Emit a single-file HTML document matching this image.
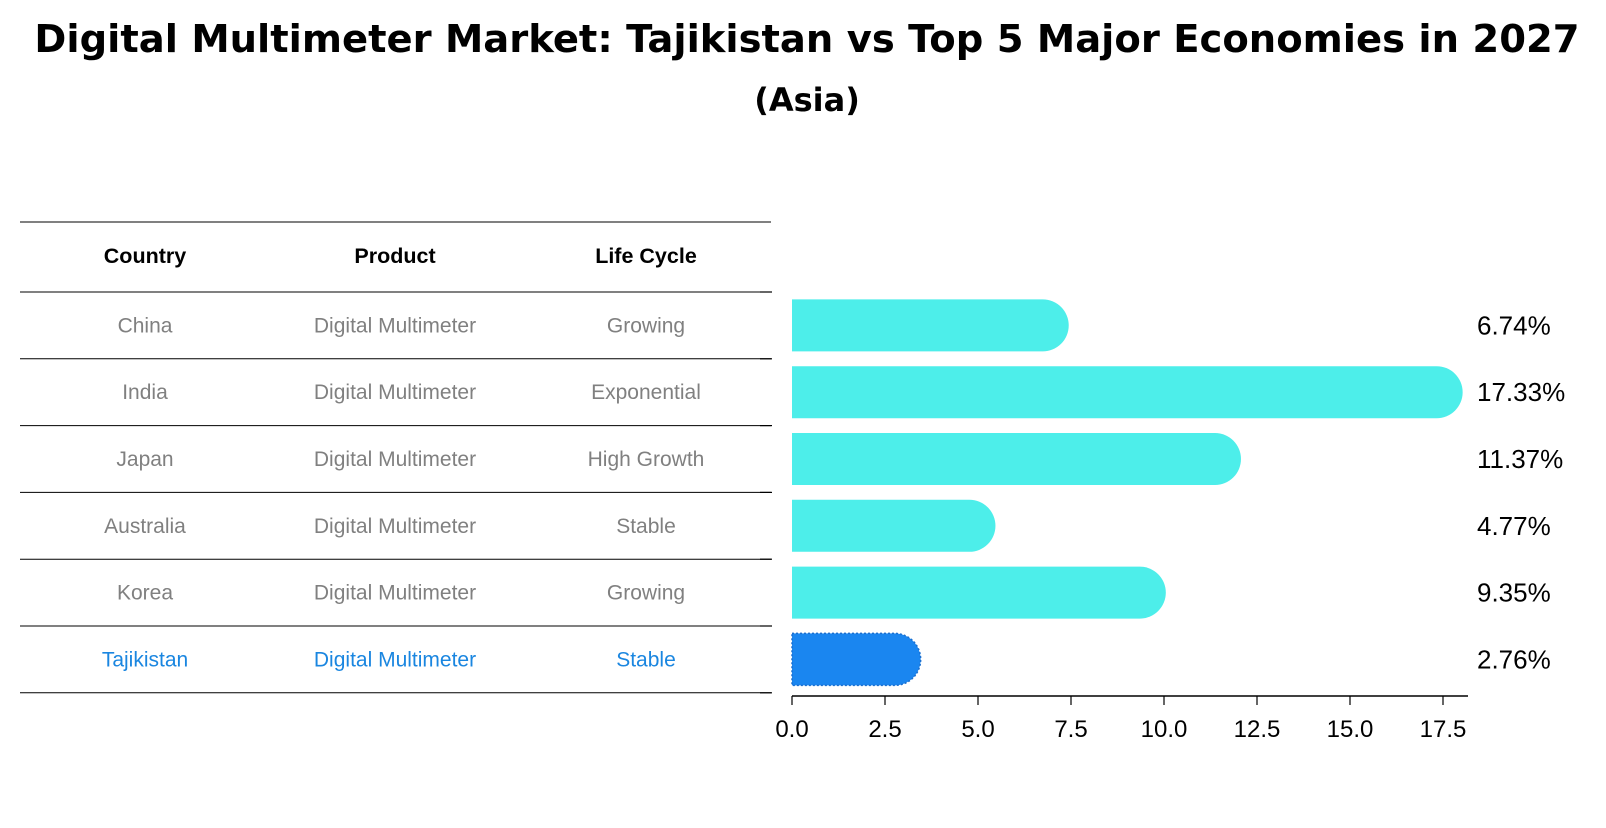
<!DOCTYPE html>
<html><head><meta charset="utf-8"><style>
body{margin:0;background:#fff;font-family:"Liberation Sans","DejaVu Sans",sans-serif;}
</style></head><body>
<svg id="chart" width="1606" height="823" xmlns="http://www.w3.org/2000/svg" font-family="DejaVu Sans, Liberation Sans, sans-serif">
<text x="807" y="52" text-anchor="middle" font-size="38.5" font-weight="bold">Digital Multimeter Market: Tajikistan vs Top 5 Major Economies in 2027</text>
<text x="807" y="111" text-anchor="middle" font-size="32" font-weight="bold">(Asia)</text>
<g id="table"></g>
<g id="bars"></g>
</svg>
<script>
const countries=["China","India","Japan","Australia","Korea","Tajikistan"];
const products=["Digital Multimeter","Digital Multimeter","Digital Multimeter","Digital Multimeter","Digital Multimeter","Digital Multimeter"];
const lifecycle=["Growing","Exponential","High Growth","Stable","Growing","Stable"];
const values=[6.74,17.33,11.37,4.77,9.35,2.76];
const ticks=[0,2.5,5,7.5,10,12.5,15,17.5];
const NS="http://www.w3.org/2000/svg";
function mk(t,a,p){const e=document.createElementNS(NS,t);for(const k in a)e.setAttribute(k,a[k]);p.appendChild(e);return e;}
const x0=792,ppu=37.2,rowTop=292,rowH=66.8,barH=52,r=26;
const xs=v=>x0+v*ppu;
const yc=i=>rowTop+rowH*(i+0.5);
const tb=document.getElementById('table'),bg=document.getElementById('bars');
const cols=[145,395,646];
const lineYs=[222,rowTop];
for(let i=1;i<=countries.length;i++)lineYs.push(rowTop+rowH*i);
lineYs.forEach((y,i)=>{const l=mk('line',{x1:20,x2:771,y1:y,y2:y,stroke:'#000','stroke-width':1},tb);

});
["Country","Product","Life Cycle"].forEach((h,j)=>{const t=mk('text',{x:cols[j],y:263,'text-anchor':'middle','font-size':21.5,'font-weight':'bold','font-family':'Liberation Sans, DejaVu Sans, sans-serif'},tb);t.textContent=h;

});
countries.forEach((c,i)=>{const col=i===countries.length-1?'#1a86e0':'#808080';
[c,products[i],lifecycle[i]].forEach((v,j)=>{const t=mk('text',{x:cols[j],y:yc(i)+7,'text-anchor':'middle','font-size':21,fill:col,'font-family':'Liberation Sans, DejaVu Sans, sans-serif'},tb);t.textContent=v;

});});
values.forEach((v,i)=>{const y=yc(i)-barH/2,xe=xs(v);const last=i===values.length-1;
const p=mk('path',{d:`M${x0},${y}H${xe}A${r},${r} 0 0 1 ${xe},${y+barH}H${x0}Z`,fill:last?'#1a86f0':'#4deeea',stroke:last?'#1a6fd0':'none','stroke-dasharray':last?'2,2':'none','stroke-width':1.5},bg);


const t=mk('text',{x:1477,y:yc(i)+9,'font-size':26,'font-family':'Liberation Sans, DejaVu Sans, sans-serif'},bg);t.textContent=v.toFixed(2)+'%';

});
for(let i=0;i<=values.length;i++){const y=rowTop+rowH*i;const l=mk('line',{x1:760,x2:772,y1:y,y2:y,stroke:'#000','stroke-width':1.2},bg);

}
const ax=mk('line',{x1:x0,x2:1468,y1:696,y2:696,stroke:'#000','stroke-width':1.5},bg);


ticks.forEach(v=>{const l=mk('line',{x1:xs(v),x2:xs(v),y1:696,y2:705,stroke:'#000','stroke-width':1.2},bg);


const t=mk('text',{x:xs(v),y:737,'text-anchor':'middle','font-size':24,'font-family':'Liberation Sans, DejaVu Sans, sans-serif'},bg);t.textContent=v.toFixed(1);

});
</script>
</body></html>
